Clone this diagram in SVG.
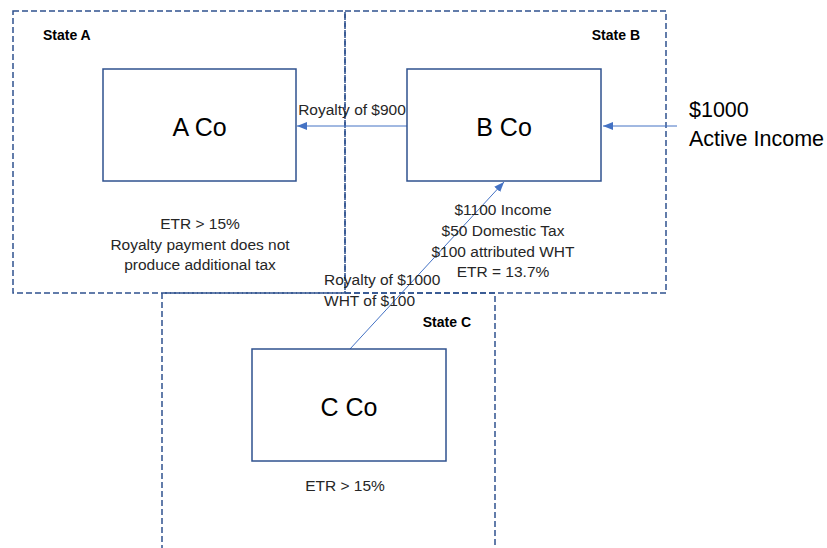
<svg xmlns="http://www.w3.org/2000/svg" width="827" height="548" viewBox="0 0 827 548">
<defs>
<marker id="arr" viewBox="0 0 10 8" refX="10" refY="4" markerWidth="10" markerHeight="8" markerUnits="userSpaceOnUse" orient="auto">
<path d="M0,0 L10,4 L0,8 z" fill="#4472C4"/>
</marker>
</defs>
<style>
.state{fill:none;stroke:#2F528F;stroke-width:1.5;stroke-dasharray:6 3}
.box{fill:#fff;stroke:#2F528F;stroke-width:1.5}
.conn{stroke:#4472C4;stroke-width:1;fill:none;marker-end:url(#arr)}
text{font-family:"Liberation Sans",Arial,sans-serif;fill:#262626}
.lbl{font-size:15.5px}
.st{font-size:14px;font-weight:bold;fill:#000}
.co{font-size:25px;fill:#000}
.big{font-size:21.5px;fill:#000}
</style>
<g id="stateA"><rect class="state" x="13" y="11" width="332" height="282"/><text class="st" x="43" y="40">State A</text></g>
<g id="stateB"><rect class="state" x="345" y="11" width="321" height="282"/><text class="st" x="640" y="40" text-anchor="end">State B</text></g>
<g id="stateC"><path class="state" d="M162,560 V293 H495 V560"/><text class="st" x="471" y="327" text-anchor="end">State C</text></g>
<g id="connectors">
<line class="conn" x1="407" y1="126" x2="297" y2="126"/>
<line class="conn" x1="677" y1="126" x2="603" y2="126"/>
<line class="conn" x1="350" y1="349" x2="504" y2="182"/>
</g>
<g id="aco"><rect class="box" x="103" y="69" width="193" height="112"/><text class="co" x="199.5" y="136" text-anchor="middle">A Co</text></g>
<g id="bco"><rect class="box" x="407" y="69" width="194" height="112"/><text class="co" x="504" y="136" text-anchor="middle">B Co</text></g>
<g id="cco"><rect class="box" x="252" y="349" width="194" height="112"/><text class="co" x="349" y="416" text-anchor="middle">C Co</text></g>
<g id="labels">
<text class="lbl" x="352" y="115" text-anchor="middle">Royalty of $900</text>
<text class="lbl" text-anchor="middle"><tspan x="200" y="229">ETR &gt; 15%</tspan><tspan x="200" y="250">Royalty payment does not</tspan><tspan x="200" y="270">produce additional tax</tspan></text>
<text class="lbl" text-anchor="middle"><tspan x="503" y="215">$1100 Income</tspan><tspan x="503" y="236">$50 Domestic Tax</tspan><tspan x="503" y="257">$100 attributed WHT</tspan><tspan x="503" y="277">ETR = 13.7%</tspan></text>
<text class="lbl"><tspan x="324" y="285">Royalty of $1000</tspan><tspan x="324" y="306">WHT of $100</tspan></text>
<text class="lbl" x="345" y="491" text-anchor="middle">ETR &gt; 15%</text>
<text class="big"><tspan x="689" y="117">$1000</tspan><tspan x="689" y="146">Active Income</tspan></text>
</g>
</svg>
